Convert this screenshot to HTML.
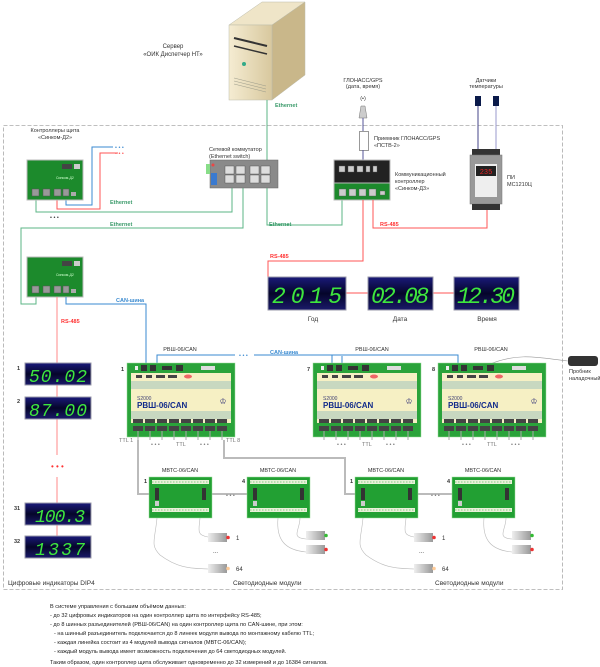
<!DOCTYPE html>
<html><head><meta charset="utf-8"><style>
html,body{margin:0;padding:0;background:#fff;}
svg{display:block;font-family:"Liberation Sans",sans-serif;}
.s{font-size:5.5px;fill:#333;}
.d{font-family:"Liberation Mono",monospace;font-size:23px;fill:#3ee63e;font-style:italic;}
.dd{font-family:"Liberation Mono",monospace;font-size:18px;fill:#3ee63e;font-style:italic;}
</style></head><body>
<svg width="600" height="667" viewBox="0 0 600 667" xmlns="http://www.w3.org/2000/svg">
<defs>
<linearGradient id="disp" x1="0" y1="0" x2="0" y2="1"><stop offset="0" stop-color="#1a1a7a"/><stop offset="0.5" stop-color="#05052a"/><stop offset="1" stop-color="#1a1a6a"/></linearGradient>
<linearGradient id="led" x1="0" y1="0" x2="1" y2="0"><stop offset="0" stop-color="#eee"/><stop offset="1" stop-color="#999"/></linearGradient>
<linearGradient id="srv" x1="0" y1="0" x2="1" y2="0"><stop offset="0" stop-color="#f5ecd2"/><stop offset="1" stop-color="#d8c89e"/></linearGradient>
</defs>
<!-- dashed frame -->
<rect x="3.5" y="125.5" width="559" height="464" fill="none" stroke="#aaa" stroke-dasharray="4,2" stroke-width="0.8"/>

<!-- server -->
<polygon points="229,25 262,2 305,2 272,25" fill="#efe5c8" stroke="#bba" stroke-width="0.5"/>
<polygon points="272,25 305,2 305,75 272,100" fill="#c9b78a" stroke="#bba" stroke-width="0.5"/>
<rect x="229" y="25" width="43" height="75" fill="url(#srv)" stroke="#bba" stroke-width="0.5"/>
<line x1="234" y1="38" x2="267" y2="46" stroke="#333" stroke-width="2"/>
<line x1="234" y1="46" x2="267" y2="54" stroke="#333" stroke-width="1.5"/>
<circle cx="244" cy="64" r="2" fill="#3a8"/>
<line x1="234" y1="78" x2="266" y2="86" stroke="#998" stroke-width="0.5"/>
<line x1="234" y1="81" x2="266" y2="89" stroke="#998" stroke-width="0.5"/>
<line x1="234" y1="84" x2="266" y2="92" stroke="#998" stroke-width="0.5"/>
<text x="173" y="48" class="s" text-anchor="middle" style="font-size:6px">Сервер</text>
<text x="173" y="56" class="s" text-anchor="middle" style="font-size:6px">«ОИК Диспетчер НТ»</text>

<!-- ethernet lines -->
<g fill="none" stroke="#5bb585" stroke-width="1">
<polyline points="267,100 267,225 342,225 342,200"/>
<polyline points="36,200 36,212 232,212 232,185"/>
<polyline points="243,185 243,228 21,228 21,304 36,304 36,292"/>
</g>
<text x="275" y="107" class="s" style="fill:#3a9a6a;font-weight:bold">Ethernet</text>
<text x="110" y="204" class="s" style="fill:#3a9a6a;font-weight:bold">Ethernet</text>
<text x="110" y="226" class="s" style="fill:#3a9a6a;font-weight:bold">Ethernet</text>
<text x="269" y="226" class="s" style="fill:#3a9a6a;font-weight:bold">Ethernet</text>

<!-- red/blue from top controller -->
<polyline points="57,195 57,209 100,209 100,153 118,153" fill="none" stroke="#f55" stroke-width="1"/>
<polyline points="66,195 66,205 92,205 92,147 113,147" fill="none" stroke="#3a8ad0" stroke-width="1"/>
<text x="115" y="149" class="s" style="fill:#3a8ad0">• • •</text>
<text x="115" y="155" class="s" style="fill:#f55">• • •</text>
<text x="50" y="219" class="s">• • •</text>

<!-- controllers D2 -->
<g>
<rect x="27" y="160" width="56" height="40" fill="#1c8a2c" stroke="#bbb"/>
<rect x="62" y="164" width="10" height="5" fill="#444"/><rect x="74" y="164" width="6" height="5" fill="#ccc"/>
<text x="56" y="179" class="s" style="font-size:3.5px;fill:#cfc">Синком-Д2</text>
<rect x="32" y="189" width="7" height="7" fill="#999" stroke="#555" stroke-width=".5"/><rect x="43" y="189" width="7" height="7" fill="#999" stroke="#555" stroke-width=".5"/><rect x="54" y="189" width="7" height="7" fill="#999" stroke="#555" stroke-width=".5"/><rect x="63" y="189" width="6" height="7" fill="#999" stroke="#555" stroke-width=".5"/><rect x="71" y="192" width="5" height="4" fill="#aaa"/>
</g>
<text x="55" y="132" class="s" text-anchor="middle">Контроллеры щита</text>
<text x="55" y="139" class="s" text-anchor="middle">«Синком-Д2»</text>
<g>
<rect x="27" y="257" width="56" height="40" fill="#1c8a2c" stroke="#bbb"/>
<rect x="62" y="261" width="10" height="5" fill="#444"/><rect x="74" y="261" width="6" height="5" fill="#ccc"/>
<text x="56" y="276" class="s" style="font-size:3.5px;fill:#cfc">Синком-Д2</text>
<rect x="32" y="286" width="7" height="7" fill="#999" stroke="#555" stroke-width=".5"/><rect x="43" y="286" width="7" height="7" fill="#999" stroke="#555" stroke-width=".5"/><rect x="54" y="286" width="7" height="7" fill="#999" stroke="#555" stroke-width=".5"/><rect x="63" y="286" width="6" height="7" fill="#999" stroke="#555" stroke-width=".5"/><rect x="71" y="289" width="5" height="4" fill="#aaa"/>
</g>

<!-- switch -->
<rect x="210" y="160" width="68" height="28" fill="#8a8a8a" stroke="#666" stroke-width=".5"/>
<rect x="206" y="164" width="4" height="10" fill="#8d8"/>
<rect x="211" y="173" width="6" height="12" fill="#3a7ad0"/>
<circle cx="213" cy="165" r="1.5" fill="#e44"/>
<g fill="#ddd" stroke="#444" stroke-width=".4">
<rect x="225" y="166" width="9" height="8"/><rect x="236" y="166" width="9" height="8"/><rect x="250" y="166" width="9" height="8"/><rect x="261" y="166" width="9" height="8"/>
<rect x="225" y="175" width="9" height="8"/><rect x="236" y="175" width="9" height="8"/><rect x="250" y="175" width="9" height="8"/><rect x="261" y="175" width="9" height="8"/>
</g>
<text x="209" y="151" class="s">Сетевой коммутатор</text>
<text x="209" y="158" class="s">(Ethernet switch)</text>

<!-- GPS -->
<text x="363" y="82" class="s" text-anchor="middle">ГЛОНАСС/GPS</text>
<text x="363" y="88" class="s" text-anchor="middle">(дата, время)</text>
<text x="363" y="100" class="s" text-anchor="middle">(•)</text>
<polygon points="361,106 365,106 367,118 359,118" fill="#ccc" stroke="#777" stroke-width=".5"/>
<line x1="363" y1="118" x2="363" y2="131" stroke="#559" stroke-width="1"/>
<rect x="359.5" y="131.5" width="9" height="19" fill="#fff" stroke="#999"/>
<line x1="363" y1="150" x2="363" y2="168" stroke="#559" stroke-width="1"/>
<text x="374" y="140" class="s">Приемник ГЛОНАСС/GPS</text>
<text x="374" y="147" class="s">«ПСТВ-2»</text>
<!-- D3 -->
<rect x="334" y="160" width="56" height="23" fill="#222" stroke="#bbb"/>
<rect x="334" y="183" width="56" height="17" fill="#1c8a2c" stroke="#bbb"/>
<g fill="#ccc" stroke="#555" stroke-width=".4">
<rect x="339" y="166" width="6" height="6"/><rect x="348" y="166" width="6" height="6"/><rect x="357" y="166" width="6" height="6"/><rect x="366" y="166" width="4" height="6"/><rect x="373" y="166" width="4" height="6"/>
<rect x="339" y="189" width="7" height="7"/><rect x="349" y="189" width="7" height="7"/><rect x="359" y="189" width="7" height="7"/><rect x="369" y="189" width="7" height="7"/><rect x="380" y="191" width="5" height="4"/>
</g>
<text x="395" y="176" class="s">Коммуникационный</text>
<text x="395" y="183" class="s">контроллер</text>
<text x="395" y="190" class="s">«Синком-Д3»</text>
<polyline points="363,200 363,261 268,261 268,293" fill="none" stroke="#f55" stroke-width="1"/>
<polyline points="373,200 373,228 487,228 487,210" fill="none" stroke="#f55" stroke-width="1"/>
<text x="380" y="226" class="s" style="fill:#f33;font-weight:bold">RS-485</text>
<text x="270" y="258" class="s" style="fill:#f33;font-weight:bold">RS-485</text>

<!-- sensors + PI -->
<text x="486" y="82" class="s" text-anchor="middle">Датчики</text>
<text x="486" y="88" class="s" text-anchor="middle">температуры</text>
<rect x="475" y="96" width="6" height="10" fill="#0a1a4a"/><rect x="493" y="96" width="6" height="10" fill="#0a1a4a"/>
<line x1="478" y1="106" x2="478" y2="150" stroke="#448" stroke-width="1"/>
<line x1="496" y1="106" x2="496" y2="150" stroke="#99c" stroke-width="1"/>
<rect x="472" y="149" width="28" height="6" fill="#333"/>
<rect x="470" y="155" width="32" height="49" fill="#999" stroke="#777" stroke-width=".5"/>
<rect x="475" y="164" width="22" height="33" fill="#eee"/>
<rect x="476" y="166" width="20" height="10" fill="#222"/>
<text x="486" y="174" text-anchor="middle" style="font-size:7px;fill:#e22;font-family:'Liberation Mono',monospace">235</text>
<rect x="472" y="204" width="28" height="6" fill="#333"/>
<text x="507" y="179" class="s">ПИ</text>
<text x="507" y="186" class="s">МС1210Ц</text>

<!-- year/date/time displays -->
<line x1="345" y1="293" x2="455" y2="293" stroke="#f55" stroke-width="1"/>
<rect x="268" y="277" width="78" height="33" fill="url(#disp)" stroke="#99a"/>
<text x="307" y="303" class="d" text-anchor="middle" textLength="70">2015</text>
<rect x="368" y="277" width="65" height="33" fill="url(#disp)" stroke="#99a"/>
<text x="400" y="303" class="d" text-anchor="middle" textLength="58">02.08</text>
<rect x="454" y="277" width="65" height="33" fill="url(#disp)" stroke="#99a"/>
<text x="486" y="303" class="d" text-anchor="middle" textLength="58">12.30</text>
<text x="313" y="321" class="s" text-anchor="middle" style="font-size:6.5px">Год</text>
<text x="400" y="321" class="s" text-anchor="middle" style="font-size:6.5px">Дата</text>
<text x="487" y="321" class="s" text-anchor="middle" style="font-size:6.5px">Время</text>

<!-- RS485 to DIP4 -->
<line x1="57" y1="297" x2="57" y2="455" stroke="#f88" stroke-width="1"/>
<line x1="57" y1="477" x2="57" y2="558" stroke="#f88" stroke-width="1"/>
<text x="61" y="323" class="s" style="fill:#f33;font-weight:bold">RS-485</text>
<text x="51" y="469" class="s" style="fill:#f33;font-size:8px">• • •</text>
<g>
<rect x="25" y="363" width="66" height="22" fill="url(#disp)" stroke="#99a"/><text x="58" y="382" class="dd" text-anchor="middle" textLength="58">50.02</text>
<rect x="25" y="397" width="66" height="22" fill="url(#disp)" stroke="#99a"/><text x="58" y="416" class="dd" text-anchor="middle" textLength="58">87.00</text>
<rect x="25" y="503" width="66" height="22" fill="url(#disp)" stroke="#99a"/><text x="60" y="522" class="dd" text-anchor="middle" textLength="50">100.3</text>
<rect x="25" y="536" width="66" height="22" fill="url(#disp)" stroke="#99a"/><text x="60" y="555" class="dd" text-anchor="middle" textLength="50">1337</text>
</g>
<g class="s" style="font-weight:bold;font-size:5.5px">
<text x="17" y="370">1</text><text x="17" y="403">2</text><text x="14" y="510">31</text><text x="14" y="543">32</text>
</g>

<!-- CAN -->
<polyline points="66,297 66,304 146,304 146,365" fill="none" stroke="#3a8ad0" stroke-width="1"/>
<text x="116" y="302" class="s" style="fill:#3a8ad0;font-weight:bold">CAN-шина</text>
<polyline points="157,365 157,355 235,355" fill="none" stroke="#3a8ad0" stroke-width="1"/>
<polyline points="254,355 458,355 458,365" fill="none" stroke="#3a8ad0" stroke-width="1"/>
<polyline points="332,365 332,355" fill="none" stroke="#3a8ad0" stroke-width="1"/>
<polyline points="342,365 342,356" fill="none" stroke="#3a8ad0" stroke-width="1"/>
<text x="239" y="357" class="s" style="fill:#3a8ad0">• • •</text>
<text x="270" y="354" class="s" style="fill:#3a8ad0;font-weight:bold">CAN-шина</text>
<!-- probe -->
<path d="M490,364 C520,352 540,358 568,361" fill="none" stroke="#999" stroke-width=".6"/>
<rect x="568" y="356" width="30" height="10" rx="3" fill="#333"/>
<text x="569" y="373" class="s">Пробник</text>
<text x="569" y="380" class="s">наладочный</text>

<!-- RVSH units -->
<g id="r1">
<rect x="127" y="363" width="108" height="74" fill="#2aa33a" stroke="#9d9" stroke-width=".5"/>
<rect x="131" y="373" width="100" height="50" fill="#f6f0c4"/>
<rect x="131" y="381" width="100" height="8" fill="#c8d8c0"/>
<rect x="131" y="411" width="100" height="8" fill="#c8d8c0"/>
<g fill="#333"><rect x="135" y="366" width="3" height="4" fill="#eee"/><rect x="141" y="365" width="6" height="6"/><rect x="150" y="365" width="6" height="6"/><rect x="162" y="366" width="10" height="4"/><rect x="176" y="365" width="7" height="6"/><rect x="201" y="366" width="14" height="4" fill="#ddd"/></g>
<g fill="#444"><rect x="136" y="375" width="6" height="3"/><rect x="146" y="375" width="6" height="3"/><rect x="156" y="375" width="9" height="3"/><rect x="168" y="375" width="9" height="3"/><ellipse cx="188" cy="376.5" rx="4" ry="2" fill="#e66"/></g>
<g fill="#444"><rect x="133" y="419" width="10" height="4"/><rect x="145" y="419" width="10" height="4"/><rect x="157" y="419" width="10" height="4"/><rect x="169" y="419" width="10" height="4"/><rect x="181" y="419" width="10" height="4"/><rect x="193" y="419" width="10" height="4"/><rect x="205" y="419" width="10" height="4"/><rect x="217" y="419" width="10" height="4"/>
<rect x="133" y="426" width="10" height="5"/><rect x="145" y="426" width="10" height="5"/><rect x="157" y="426" width="10" height="5"/><rect x="169" y="426" width="10" height="5"/><rect x="181" y="426" width="10" height="5"/><rect x="193" y="426" width="10" height="5"/><rect x="205" y="426" width="10" height="5"/><rect x="217" y="426" width="10" height="5"/></g>
<g stroke="#aaa" stroke-width="1"><line x1="138" y1="431" x2="138" y2="440"/><line x1="150" y1="431" x2="150" y2="440"/><line x1="162" y1="431" x2="162" y2="440"/><line x1="174" y1="431" x2="174" y2="440"/><line x1="186" y1="431" x2="186" y2="440"/><line x1="198" y1="431" x2="198" y2="440"/><line x1="210" y1="431" x2="210" y2="440"/><line x1="222" y1="431" x2="222" y2="440"/></g>
</g>
<use href="#r1" x="186"/>
<use href="#r1" x="311"/>
<g style="font-weight:bold">
<text x="137" y="400" class="s" style="fill:#447;font-size:5px;font-weight:normal">S2000</text>
<text x="137" y="408" style="font-size:8px;fill:#112a8a;font-weight:bold">РВШ-06/CAN</text>
<text x="323" y="400" class="s" style="fill:#447;font-size:5px;font-weight:normal">S2000</text>
<text x="323" y="408" style="font-size:8px;fill:#112a8a;font-weight:bold">РВШ-06/CAN</text>
<text x="448" y="400" class="s" style="fill:#447;font-size:5px;font-weight:normal">S2000</text>
<text x="448" y="408" style="font-size:8px;fill:#112a8a;font-weight:bold">РВШ-06/CAN</text>
</g>
<text x="223" y="404" text-anchor="middle" style="font-size:8px;fill:#337">♔</text>
<text x="409" y="404" text-anchor="middle" style="font-size:8px;fill:#337">♔</text>
<text x="534" y="404" text-anchor="middle" style="font-size:8px;fill:#337">♔</text>
<text x="180" y="351" class="s" text-anchor="middle">РВШ-06/CAN</text>
<text x="372" y="351" class="s" text-anchor="middle">РВШ-06/CAN</text>
<text x="491" y="351" class="s" text-anchor="middle">РВШ-06/CAN</text>
<g class="s" style="font-weight:bold"><text x="121" y="371">1</text><text x="307" y="371">7</text><text x="432" y="371">8</text></g>
<g class="s" style="fill:#777"><text x="119" y="442">TTL 1</text><text x="226" y="442">TTL 8</text><text x="176" y="446">TTL</text><text x="362" y="446">TTL</text><text x="487" y="446">TTL</text>
<text x="151" y="446">• • •</text><text x="200" y="446">• • •</text><text x="337" y="446">• • •</text><text x="386" y="446">• • •</text><text x="462" y="446">• • •</text><text x="511" y="446">• • •</text></g>

<!-- TTL grey cables -->
<g fill="none" stroke="#bbb" stroke-width="2">
<polyline points="138,440 138,494 156,494"/>
<polyline points="203,494 247,494"/>
<polyline points="224,440 224,458 345,458 345,494 361,494"/>
<polyline points="411,494 452,494"/>
</g>
<g class="s" style="fill:#777"><text x="226" y="497">• • •</text><text x="431" y="497">• • •</text></g>

<!-- MVTS -->
<g id="m1">
<rect x="149" y="477" width="63" height="41" fill="#22a033" stroke="#9d9" stroke-width=".5"/>
<rect x="152" y="480" width="57" height="4" fill="#e8f0d8"/>
<rect x="152" y="508" width="57" height="4" fill="#e8f0d8"/>
<rect x="155" y="488" width="4" height="12" fill="#333"/><rect x="202" y="488" width="4" height="12" fill="#333"/>
<rect x="155" y="501" width="4" height="5" fill="#ccc"/>
<line x1="152" y1="482" x2="209" y2="482" stroke="#2a3" stroke-width=".6" stroke-dasharray="1.5,1.5"/>
<line x1="152" y1="510" x2="209" y2="510" stroke="#2a3" stroke-width=".6" stroke-dasharray="1.5,1.5"/>
</g>
<use href="#m1" x="98"/><use href="#m1" x="206"/><use href="#m1" x="303"/>
<text x="180" y="472" class="s" text-anchor="middle">МВТС-06/CAN</text>
<text x="278" y="472" class="s" text-anchor="middle">МВТС-06/CAN</text>
<text x="386" y="472" class="s" text-anchor="middle">МВТС-06/CAN</text>
<text x="483" y="472" class="s" text-anchor="middle">МВТС-06/CAN</text>
<g class="s" style="font-weight:bold"><text x="144" y="483">1</text><text x="242" y="483">4</text><text x="350" y="483">1</text><text x="447" y="483">4</text></g>

<!-- LEDs -->
<g id="l1">
<path d="M157,518 C155,540 150,545 160,555 C180,570 195,568 208,569" fill="none" stroke="#bbb" stroke-width=".6"/>
<path d="M200,518 C199,530 196,535 208,537" fill="none" stroke="#bbb" stroke-width=".6"/>
<rect x="208" y="533" width="19" height="9" fill="url(#led)"/><circle cx="228" cy="537.5" r="1.8" fill="#e33"/>
<rect x="208" y="564" width="19" height="9" fill="url(#led)"/><circle cx="228" cy="568.5" r="1.8" fill="#fc9"/>
</g>
<use href="#l1" x="206"/>
<g id="l2">
<path d="M278,518 C276,540 285,550 306,552" fill="none" stroke="#bbb" stroke-width=".6"/>
<path d="M300,518 C300,530 290,538 306,539" fill="none" stroke="#bbb" stroke-width=".6"/>
<rect x="306" y="531" width="19" height="9" fill="url(#led)"/><circle cx="326" cy="535.5" r="1.8" fill="#3b3"/>
<rect x="306" y="545" width="19" height="9" fill="url(#led)"/><circle cx="326" cy="549.5" r="1.8" fill="#e33"/>
</g>
<use href="#l2" x="206"/>
<g class="s" style="font-size:6px"><text x="236" y="540">1</text><text x="236" y="571">64</text><text x="442" y="540">1</text><text x="442" y="571">64</text><text x="213" y="553">...</text><text x="419" y="553">...</text></g>

<text x="8" y="585" class="s" style="font-size:6.5px">Цифровые индикаторы DIP4</text>
<text x="233" y="585" class="s" style="font-size:6.5px">Светодиодные модули</text>
<text x="435" y="585" class="s" style="font-size:6.5px">Светодиодные модули</text>

<!-- description -->
<g class="s" style="font-size:5.6px;fill:#222">
<text x="50" y="608">В системе управления с большим объёмом данных:</text>
<text x="50" y="617">- до 32 цифровых индикаторов на один контроллер щита по интерфейсу RS-485;</text>
<text x="50" y="626">- до 8 шинных разъединителей (РВШ-06/CAN) на один контроллер щита по CAN-шине, при этом:</text>
<text x="54" y="635">- на шинный разъединитель подключается до 8 линеек модуля вывода по монтажному кабелю TTL;</text>
<text x="54" y="644">- каждая линейка состоит из 4 модулей вывода сигналов (МВТС-06/CAN);</text>
<text x="54" y="653">- каждый модуль вывода имеет возможность подключения до 64 светодиодных модулей.</text>
<text x="50" y="664">Таким образом, один контроллер щита обслуживает одновременно до 32 измерений и до 16384 сигналов.</text>
</g>
</svg>
</body></html>
